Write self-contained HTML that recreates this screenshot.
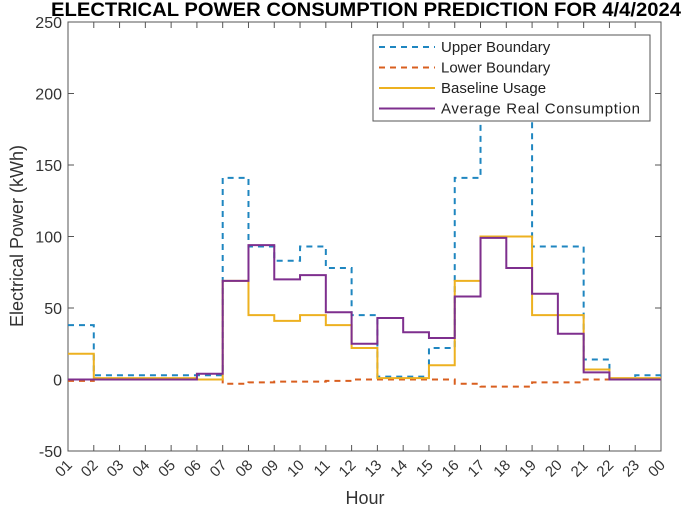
<!DOCTYPE html>
<html><head><meta charset="utf-8"><style>
body{margin:0;background:#fff;}
svg text{font-family:"Liberation Sans",Arial,sans-serif;}
</style></head><body>
<svg width="685" height="512" xmlns="http://www.w3.org/2000/svg">
<g id="chart"></g>
</svg>
<script>
const hours=["01","02","03","04","05","06","07","08","09","10","11","12","13","14","15","16","17","18","19","20","21","22","23","00"];
const yTicks=[-50,0,50,100,150,200,250];
const upperVals=[38,3,3,3,3,3,141,93,83,93,78,45,2,2,22,141,205,205,93,93,14,0,3];
const lowerVals=[-1,0,0,0,0,0,-3,-2,-1.5,-1.5,-1,0,0,0,0,-3,-5,-5,-2,-2,0,0,0];
const baselineVals=[18,1,1,1,1,0,69,45,41,45,38,22,1,1,10,69,100,100,45,45,7,1,1];
const realVals=[0,0,0,0,0,4,69,94,70,73,47,25,43,33,29,58,99,78,60,32,5,0,0];

const NS="http://www.w3.org/2000/svg";
const g=document.getElementById('chart');
const L=68,R=661,T=22,B=451;
const xs=i=>L+i*(R-L)/(hours.length-1);
const ys=v=>B-(v+50)*(B-T)/300;
function el(tag,at,parent){const e=document.createElementNS(NS,tag);for(const k in at)e.setAttribute(k,at[k]);(parent||g).appendChild(e);return e;}

const frame=el('rect',{x:L,y:T,width:R-L,height:B-T,fill:'#fff',stroke:'#555','stroke-width':1});



hours.forEach((h,i)=>{
  const x=xs(i);
  el('line',{x1:x,y1:B,x2:x,y2:B-6,stroke:'#555'});
  el('line',{x1:x,y1:T,x2:x,y2:T+6,stroke:'#555'});
  const t=el('text',{x:x+5,y:B+15,'font-size':15,fill:'#333','text-anchor':'end',transform:`rotate(-45 ${x+5} ${B+15})`});
  t.textContent=h;
  
  
});
yTicks.forEach(v=>{
  const y=ys(v);
  el('line',{x1:L,y1:y,x2:L+6,y2:y,stroke:'#555'});
  el('line',{x1:R,y1:y,x2:R-6,y2:y,stroke:'#555'});
  const t=el('text',{x:L-6,y:y+6,'font-size':16,fill:'#333','text-anchor':'end'});
  t.textContent=v;
  
  
});

function stairs(vals,color,dash,name){
  let d='';
  vals.forEach((v,i)=>{
    const y=ys(v);
    d+=(i===0?`M${xs(i)},${y}`:`L${xs(i)},${y}`)+`L${xs(i+1)},${y}`;
  });
  const p=el('path',{d:d,fill:'none',stroke:color,'stroke-width':2,'stroke-dasharray':dash||'none'});
  
  
}
stairs(upperVals,'#1f86c0','6,5','upper-boundary-line');
stairs(lowerVals,'#d95f1f','6,5','lower-boundary-line');
stairs(baselineVals,'#edb120',null,'baseline-usage-line');
stairs(realVals,'#7e2f8e',null,'average-real-consumption-line');

const title=el('text',{x:366,y:16,'font-size':19,'font-weight':'bold','text-anchor':'middle',fill:'#000',textLength:630,lengthAdjust:'spacingAndGlyphs'});
title.textContent='ELECTRICAL POWER CONSUMPTION PREDICTION FOR  4/4/2024';



const xl=el('text',{x:365,y:504,'font-size':18,'text-anchor':'middle',fill:'#333'});
xl.textContent='Hour';


const yl=el('text',{x:23,y:236,'font-size':18,'text-anchor':'middle',fill:'#333',transform:'rotate(-90 23 236)'});
yl.textContent='Electrical Power (kWh)';



const lg=el('g',{});


el('rect',{x:373,y:35,width:277,height:86,fill:'#fff',stroke:'#555'},lg);
const items=[['Upper Boundary','#1f86c0','6,5'],['Lower Boundary','#d95f1f','6,5'],['Baseline Usage','#edb120',null],['Average Real Consumption','#7e2f8e',null]];
items.forEach((it,i)=>{
  const y=47+i*20.5;
  el('line',{x1:379,y1:y,x2:435,y2:y,stroke:it[1],'stroke-width':2,'stroke-dasharray':it[2]||'none'},lg);
  const t=el('text',{x:441,y:y+5,'font-size':15,fill:'#222',textLength:i===3?199:null});
  lg.appendChild(t);
  if(i!==3)t.removeAttribute('textLength');
  t.textContent=it[0];
  
  
});
</script>
</body></html>
